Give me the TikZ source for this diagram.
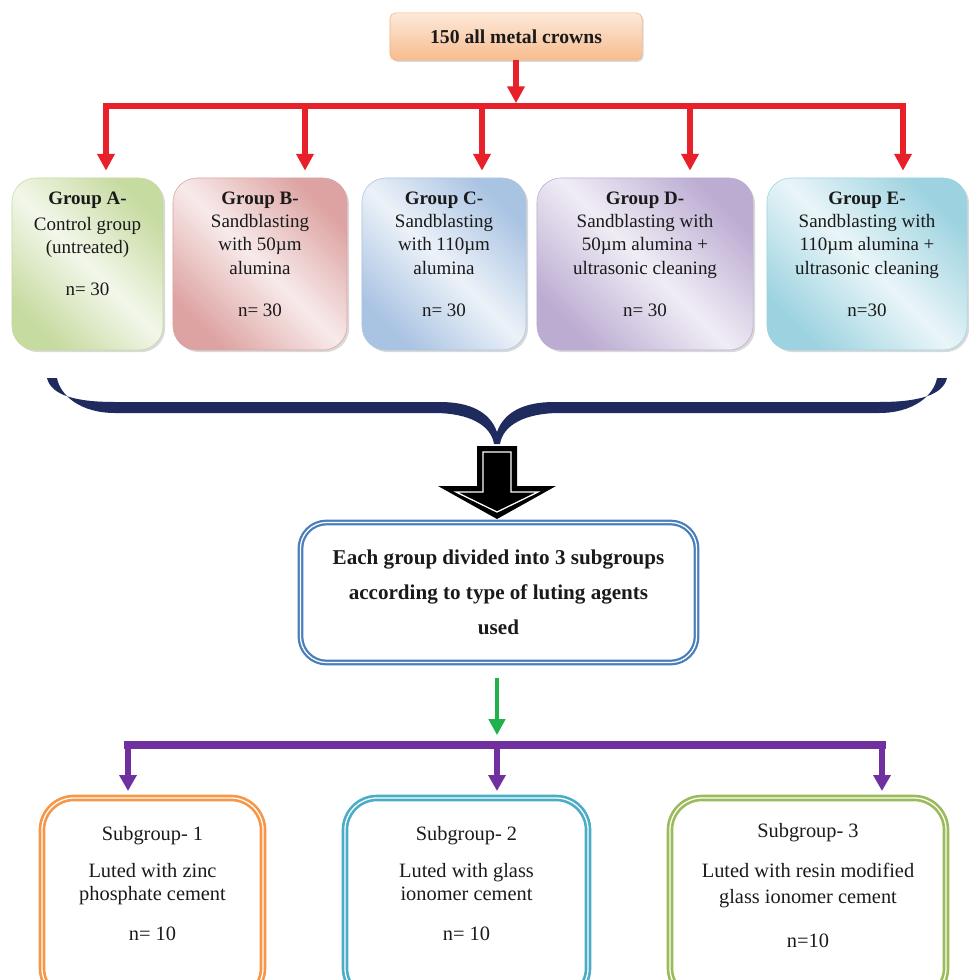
\documentclass[tikz,border=0pt]{standalone}
\usepackage{fontspec}
\setmainfont{Liberation Serif}
\usetikzlibrary{shapes,arrows.meta,shadows}

\definecolor{arrred}{HTML}{E8202A}
\definecolor{bracenavy}{HTML}{1F2A5E}
\definecolor{arrpurple}{HTML}{7030A0}
\definecolor{arrgreen}{HTML}{20B14C}
\definecolor{peachtop}{HTML}{FDE9DA}
\definecolor{peachbot}{HTML}{F7BC8E}
\definecolor{peachline}{HTML}{F4B183}
\definecolor{grA}{HTML}{C6DBA0}
\definecolor{grB}{HTML}{DDA3A2}
\definecolor{grC}{HTML}{A9C3E2}
\definecolor{grD}{HTML}{BCACD2}
\definecolor{grE}{HTML}{9DD3E0}
\definecolor{boxblue}{HTML}{4A7EBB}
\definecolor{subA}{HTML}{F79646}
\definecolor{subB}{HTML}{4BACC6}
\definecolor{subC}{HTML}{9BBB59}
\definecolor{txt}{HTML}{1A1A1A}

\begin{document}
\begin{tikzpicture}[x=0.025cm, y=-0.025cm]
\tikzstyle{topbox}=[rectangle, rounded corners=4pt, draw=peachline, top color=peachtop, bottom color=peachbot, minimum width=6.3cm, minimum height=1.18cm, text=txt, font=\fontsize{14}{16}\selectfont\bfseries, drop shadow={opacity=0.3, shadow xshift=1.2pt, shadow yshift=-1.2pt}]
\tikzstyle{groupbox}=[rectangle, rounded corners=0.6cm, minimum height=4.3cm, drop shadow={opacity=0.3, shadow xshift=1.5pt, shadow yshift=-1.5pt}]
\tikzstyle{gshade}=[left color=#1, right color=#1, middle color=#1!22, shading angle=135, draw=#1]
\tikzstyle{grouptext}=[anchor=north, inner sep=0pt, align=center, text=txt, font=\fontsize{13.5}{16.4}\selectfont]
\tikzstyle{midbox}=[rectangle, rounded corners=0.65cm, draw=boxblue, line width=1.6pt, double=white, double distance=0.9pt, minimum width=9.9cm, minimum height=3.5cm, align=center, text=txt, font=\fontsize{15}{25}\selectfont\bfseries]
\tikzstyle{subbox}=[rectangle, rounded corners=0.8cm, line width=1.9pt, double=white, double distance=0.9pt, minimum height=5.05cm]
\tikzstyle{subtext}=[anchor=north, inner sep=0pt, align=center, text=txt, font=\fontsize{14.5}{16.5}\selectfont]
\tikzstyle{redline}=[draw=arrred, line width=4.2pt, line cap=rect]
\tikzstyle{redarrow}=[draw=arrred, line width=4.2pt, -{Triangle[width=0.42cm,length=0.42cm]}]
\tikzstyle{purpleline}=[draw=arrpurple, line width=6pt, line cap=rect]
\tikzstyle{purplearrow}=[draw=arrpurple, line width=3.6pt, -{Triangle[width=0.42cm,length=0.4cm]}]
\tikzstyle{greenarrow}=[draw=arrgreen, line width=3pt, -{Triangle[width=0.4cm,length=0.4cm]}]

\useasboundingbox (0,0) rectangle (968,980);

% top box
\node[topbox] (T0) at (516,36.5) {150 all metal crowns};

% five groups
\node[groupbox, gshade=grA, minimum width=3.775cm] (G1) at (87.5,264) {};
\node[groupbox, gshade=grB, minimum width=4.35cm] (G2) at (260,264) {};
\node[groupbox, gshade=grC, minimum width=4.1cm] (G3) at (444,264) {};
\node[groupbox, gshade=grD, minimum width=5.4cm] (G4) at (645,264) {};
\node[groupbox, gshade=grE, minimum width=5cm] (G5) at (867,264) {};
\node[grouptext] (G1t) at (87.5,192) {\textbf{Group A-}\\[1.5pt] Control group\\ (untreated)\\[14pt] n= 30};
\node[grouptext] (G2t) at (260,192) {\textbf{Group B-}\\ Sandblasting\\ with 50µm\\ alumina\\[14pt] n= 30};
\node[grouptext] (G3t) at (444,192) {\textbf{Group C-}\\ Sandblasting\\ with 110µm\\ alumina\\[14pt] n= 30};
\node[grouptext] (G4t) at (645,192) {\textbf{Group D-}\\ Sandblasting with\\ 50µm alumina +\\ ultrasonic cleaning\\[14pt] n= 30};
\node[grouptext] (G5t) at (867,192) {\textbf{Group E-}\\ Sandblasting with\\ 110µm alumina +\\ ultrasonic cleaning\\[14pt] n=30};

% red connectors
\coordinate (R1) at (106,106);
\coordinate (R2) at (305,106);
\coordinate (R3) at (482,106);
\coordinate (R4) at (690,106);
\coordinate (R5) at (903,106);
\draw[redline] (R1) -- (R5);
\draw[redarrow, shorten >=2pt] (T0.south) -- (T0.south |- R1);
\draw[redarrow, shorten >=5pt] (R1) -- (R1 |- G1.north);
\draw[redarrow, shorten >=5pt] (R2) -- (R2 |- G2.north);
\draw[redarrow, shorten >=5pt] (R3) -- (R3 |- G3.north);
\draw[redarrow, shorten >=5pt] (R4) -- (R4 |- G4.north);
\draw[redarrow, shorten >=5pt] (R5) -- (R5 |- G5.north);

% brace
\fill[bracenavy] (47,378) .. controls (51,395) and (75,402) .. (115,402) -- (440,402)
  .. controls (470,402) and (490,412) .. (497,432)
  .. controls (504,412) and (524,402) .. (554,402) -- (879,402)
  .. controls (919,402) and (943,395) .. (947,378) -- (937,378)
  .. controls (934,395) and (914,413) .. (879,413) -- (560,413)
  .. controls (525,413) and (503,425) .. (500,444) -- (494,444)
  .. controls (491,425) and (469,413) .. (434,413) -- (115,413)
  .. controls (80,413) and (60,395) .. (57,378) -- cycle;

% block arrow
\fill[black] (477,446) -- (517,446) -- (517,486) -- (556,486) -- (497,519) -- (438,486) -- (477,486) -- cycle;
\draw[white, line width=0.9pt] (483,452) -- (511,452) -- (511,492) -- (538,492) -- (497,512) -- (456,492) -- (483,492) -- cycle;

% middle box
\node[midbox] (M0) at (498.5,592.5) {Each group divided into 3 subgroups\\ according to type of luting agents\\ used};

% purple connectors
\coordinate (P1) at (128,745);
\coordinate (P2) at (497,745);
\coordinate (P3) at (882,745);
\draw[greenarrow, shorten <=10pt, shorten >=7pt] (M0.south -| P2) -- (P2);
\draw[purpleline] (P1) -- (P3);

% three subgroups
\node[subbox, draw=subA, minimum width=5.525cm] (S1) at (152.5,899) {};
\node[subbox, draw=subB, minimum width=6.075cm] (S2) at (466.5,899) {};
\node[subbox, draw=subC, minimum width=6.9cm] (S3) at (808,899) {};
\node[subtext] (S1t) at (152.5,826) {Subgroup- 1\\[10pt] Luted with zinc\\ phosphate cement\\[12pt] n= 10};
\node[subtext] (S2t) at (466.5,826) {Subgroup- 2\\[10pt] Luted with glass\\ ionomer cement\\[12pt] n= 10};
\node[subtext] (S3t) at (808,823) {Subgroup- 3\\[12pt] Luted with resin modified\\[2pt] glass ionomer cement\\[15pt] n=10};

\draw[purplearrow, shorten >=4pt] (P1) -- (P1 |- S1.north);
\draw[purplearrow, shorten >=4pt] (P2) -- (P2 |- S2.north);
\draw[purplearrow, shorten >=4pt] (P3) -- (P3 |- S3.north);
\end{tikzpicture}
\end{document}
